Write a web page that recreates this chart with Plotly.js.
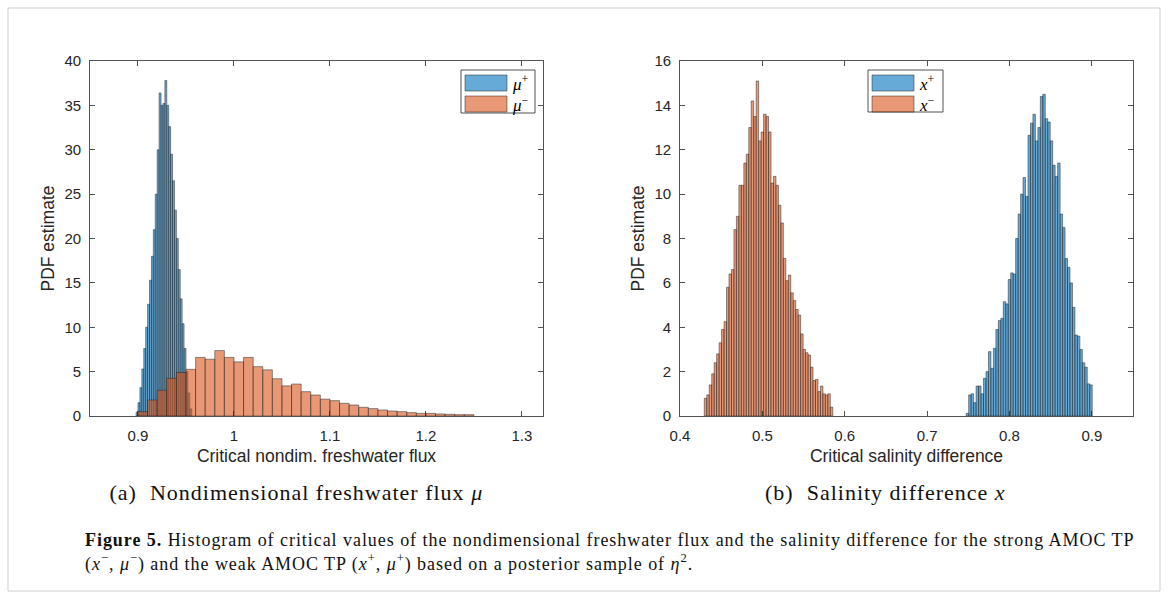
<!DOCTYPE html>
<html>
<head>
<meta charset="utf-8">
<script src="https://cdn.plot.ly/plotly-3.0.1.min.js"></script>
<style>
  html, body { margin: 0; padding: 0; background: #ffffff; }
  #fig { width: 1168px; height: 599px; }
</style>
</head>
<body>
<div id="fig"></div>
<script>
// Histogram bins: first left edge, bin width, and PDF estimate per bin.

// (a) critical nondimensional freshwater flux
const muPlusStart = 0.898;
const muPlusWidth = 0.002;
const muPlusPdf = [0.4, 1.5, 3.2, 5.3, 7.6, 10.0, 12.6, 15.3, 18.0, 21.0,
                   25.0, 30.0, 36.4, 35.0, 35.2, 37.8, 35.0, 32.6, 29.5, 26.5,
                   23.2, 20.0, 16.5, 13.2, 10.4, 7.6, 5.0, 2.6, 0.8];

const muMinusStart = 0.90;
const muMinusWidth = 0.01;
const muMinusPdf = [0.5, 1.8, 2.9, 4.25, 4.9, 5.26, 6.6, 6.4, 7.37, 6.6,
                    6.1, 6.6, 5.56, 5.2, 4.2, 3.4, 3.6, 2.74, 2.37, 1.9,
                    1.73, 1.43, 1.24, 0.98, 0.83, 0.68, 0.56, 0.49, 0.38, 0.3,
                    0.3, 0.23, 0.19, 0.15, 0.15];

// (b) critical salinity difference
const xMinusStart = 0.4295;
const xMinusWidth = 0.003;
const xMinusPdf = [0.8, 0.95, 1.4, 1.9, 2.4, 2.8, 3.3, 3.9, 4.25, 5.8,
                   6.4, 6.6, 8.4, 9.0, 10.4, 10.4, 11.4, 11.8, 13.0, 14.2,
                   13.5, 15.1, 12.4, 12.8, 13.6, 13.5, 12.8, 10.5, 10.8, 10.4,
                   9.5, 8.7, 7.1, 6.1, 6.35, 5.55, 5.2, 4.8, 4.55, 3.7,
                   3.0, 2.85, 2.75, 2.2, 1.6, 1.65, 1.1, 1.35, 1.0, 0.95,
                   1.0, 0.4];

const xPlusStart = 0.7475;
const xPlusWidth = 0.003;
const xPlusPdf = [0.12, 0.95, 1.0, 0.6, 1.35, 1.35, 1.0, 1.7, 2.0, 2.9,
                  2.15, 3.05, 3.9, 4.3, 4.4, 5.15, 5.05, 6.15, 6.45, 6.4,
                  8.0, 9.1, 10.0, 10.75, 9.9, 12.65, 13.2, 13.6, 12.4, 13.0,
                  14.4, 14.5, 13.4, 13.25, 12.4, 11.3, 10.8, 11.4, 9.1, 8.5,
                  7.1, 6.7, 6.0, 4.9, 3.65, 3.6, 3.0, 2.4, 2.2, 1.45, 1.4];

// Tick labels
const fluxTicks = [0.9, 1.0, 1.1, 1.2, 1.3];
const fluxTickText = ['0.9', '1', '1.1', '1.2', '1.3'];
const salTicks = [0.4, 0.5, 0.6, 0.7, 0.8, 0.9];
const salTickText = ['0.4', '0.5', '0.6', '0.7', '0.8', '0.9'];

// MATLAB-like face colours at FaceAlpha 0.6, dark edges
const BLUE = 'rgba(0,114,189,0.6)';
const ORANGE = 'rgba(217,83,25,0.6)';
const EDGE = 'rgb(38,38,38)';
const AXIS = '#262626';

function histTrace(start, width, pdf, color, xa, ya, name) {
  return {
    type: 'bar',
    name: name,
    x: pdf.map((_, i) => start + width * (i + 0.5)),
    y: pdf,
    width: pdf.map(() => width),
    marker: { color: color, line: { color: EDGE, width: 0.5 } },
    xaxis: xa, yaxis: ya,
    hoverinfo: 'x+y',
    showlegend: false
  };
}

const traces = [
  histTrace(muPlusStart, muPlusWidth, muPlusPdf, BLUE, 'x', 'y', 'μ+'),
  histTrace(muMinusStart, muMinusWidth, muMinusPdf, ORANGE, 'x', 'y', 'μ−'),
  histTrace(xMinusStart, xMinusWidth, xMinusPdf, ORANGE, 'x2', 'y2', 'x−'),
  histTrace(xPlusStart, xPlusWidth, xPlusPdf, BLUE, 'x2', 'y2', 'x+')
];

const W = 1168, H = 599;
const px = v => v / W;
const py = v => 1 - v / H;

const tickFont = { family: 'Liberation Sans, Arial, sans-serif', size: 15, color: AXIS };
const titleFont = { family: 'Liberation Sans, Arial, sans-serif', size: 17.5, color: AXIS };

const axisCommon = {
  showline: true, linecolor: AXIS, linewidth: 0.8, mirror: 'ticks',
  ticks: 'inside', ticklen: 5, tickwidth: 0.8, tickcolor: AXIS,
  showgrid: false, zeroline: false, tickfont: tickFont, fixedrange: true
};

const plotTop = 61, plotBottom = 416;
const yDomain = [py(plotBottom), py(plotTop)];

const layout = {
  width: W, height: H,
  margin: { l: 0, r: 0, t: 0, b: 0 },
  paper_bgcolor: '#ffffff', plot_bgcolor: '#ffffff',
  barmode: 'overlay', bargap: 0,
  xaxis: Object.assign({}, axisCommon, {
    domain: [px(90), px(543)], range: [0.85, 1.322], anchor: 'y',
    tickvals: fluxTicks, ticktext: fluxTickText, ticklabelstandoff: 6,
    title: { text: 'Critical nondim. freshwater flux', font: titleFont, standoff: 6 }
  }),
  yaxis: Object.assign({}, axisCommon, {
    domain: yDomain, range: [0, 40], anchor: 'x', dtick: 5, tick0: 0,
    ticklabelstandoff: 5,
    title: { text: 'PDF estimate', font: titleFont, standoff: 5 }
  }),
  xaxis2: Object.assign({}, axisCommon, {
    domain: [px(680), px(1133)], range: [0.4, 0.95], anchor: 'y2',
    tickvals: salTicks, ticktext: salTickText, ticklabelstandoff: 6,
    title: { text: 'Critical salinity difference', font: titleFont, standoff: 6 }
  }),
  yaxis2: Object.assign({}, axisCommon, {
    domain: yDomain, range: [0, 16], anchor: 'x2', dtick: 2, tick0: 0,
    ticklabelstandoff: 5,
    title: { text: 'PDF estimate', font: titleFont, standoff: 5 }
  }),
  shapes: [],
  annotations: []
};

// Outer frame of the figure panel
layout.shapes.push({
  type: 'rect', xref: 'paper', yref: 'paper',
  x0: px(8), x1: px(1160), y0: py(591), y1: py(8),
  line: { color: '#cfcfcf', width: 1 }, fillcolor: 'rgba(0,0,0,0)', layer: 'below'
});

// Extra letter spacing per annotation (by index), applied after drawing
const letterSpacing = {};

// Legend boxes with large colour patches
const legendSerif = { family: 'Liberation Serif, DejaVu Serif, serif', size: 17, color: '#000' };
function legend(x0, x1, y0, y1, entries) {
  layout.shapes.push({
    type: 'rect', xref: 'paper', yref: 'paper',
    x0: px(x0), x1: px(x1), y0: py(y1), y1: py(y0),
    line: { color: AXIS, width: 0.8 }, fillcolor: '#ffffff'
  });
  entries.forEach((e, i) => {
    const top = y0 + 5 + i * 21;
    layout.shapes.push({
      type: 'rect', xref: 'paper', yref: 'paper',
      x0: px(x0 + 4), x1: px(x0 + 46), y0: py(top + 16), y1: py(top),
      line: { color: EDGE, width: 0.5 }, fillcolor: e.color
    });
    layout.annotations.push({
      xref: 'paper', yref: 'paper', x: px(x0 + 49), y: py(top + 8),
      xanchor: 'left', yanchor: 'middle', showarrow: false,
      text: e.label, font: legendSerif
    });
  });
}
legend(461, 535, 70, 113, [
  { color: BLUE, label: '<i>μ</i><sup>+</sup>' },
  { color: ORANGE, label: '<i>μ</i><sup>−</sup>' }
]);
legend(868, 943, 70, 112, [
  { color: BLUE, label: '<i>x</i><sup>+</sup>' },
  { color: ORANGE, label: '<i>x</i><sup>−</sup>' }
]);

// Sub-figure captions
const subFont = { family: 'Liberation Serif, DejaVu Serif, serif', size: 22, color: '#111' };
letterSpacing[layout.annotations.length] = 1.0;
layout.annotations.push({
  xref: 'paper', yref: 'paper', x: px(296), y: py(492),
  xanchor: 'center', yanchor: 'middle', showarrow: false,
  text: '(a)  Nondimensional freshwater flux <i>μ</i>', font: subFont
});
letterSpacing[layout.annotations.length] = 1.0;
layout.annotations.push({
  xref: 'paper', yref: 'paper', x: px(885), y: py(492),
  xanchor: 'center', yanchor: 'middle', showarrow: false,
  text: '(b)  Salinity difference <i>x</i>', font: subFont
});

// Figure caption
const capFont = { family: 'Liberation Serif, DejaVu Serif, serif', size: 18, color: '#111' };
letterSpacing[layout.annotations.length] = 0.95;
layout.annotations.push({
  xref: 'paper', yref: 'paper', x: px(83), y: py(540),
  xanchor: 'left', yanchor: 'middle', showarrow: false, align: 'left',
  text: '<b>Figure 5.</b> Histogram of critical values of the nondimensional freshwater flux and the salinity difference for the strong AMOC TP',
  font: capFont
});
letterSpacing[layout.annotations.length] = 0.95;
layout.annotations.push({
  xref: 'paper', yref: 'paper', x: px(83), y: py(563),
  xanchor: 'left', yanchor: 'middle', showarrow: false, align: 'left',
  text: '(<i>x</i><sup>−</sup>, <i>μ</i><sup>−</sup>) and the weak AMOC TP (<i>x</i><sup>+</sup>, <i>μ</i><sup>+</sup>) based on a posterior sample of <i>η</i><sup>2</sup>.',
  font: capFont
});

Plotly.newPlot('fig', traces, layout, { displayModeBar: false, staticPlot: true }).then(gd => {
  gd.querySelectorAll('.annotation').forEach(g => {
    const idx = +g.getAttribute('data-index');
    if (letterSpacing[idx] !== undefined) {
      const t = g.querySelector('text');
      if (t) t.style.letterSpacing = letterSpacing[idx] + 'px';
    }
  });
});
</script>
</body>
</html>
